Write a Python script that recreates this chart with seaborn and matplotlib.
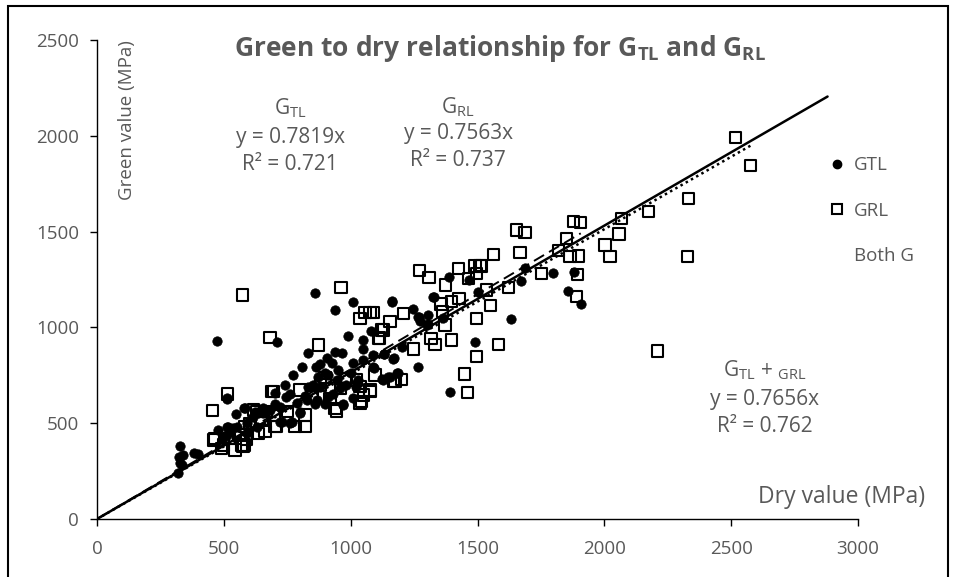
import numpy as np
import pandas as pd
import matplotlib.pyplot as plt
import seaborn as sns
from matplotlib.lines import Line2D
from matplotlib.patches import Rectangle

# GTL points (dry, green) in MPa
gtl_dry = [327, 325, 334, 320, 340, 327, 384, 397, 478, 511, 518, 537, 498, 511, 550, 590,
           629, 590, 616, 636, 656, 511, 514, 546, 581, 623, 656, 472, 708, 702, 721, 761,
           800, 728, 767, 800, 682, 636, 583, 721, 747, 787, 826, 866, 912, 971, 958, 945,
           912, 872, 833, 774, 807, 833, 863, 879, 908, 925, 859, 938, 1008, 1161, 938, 965,
           991, 1047, 1080, 1047, 1089, 1133, 1168, 1011, 1050, 1093, 1089, 1122, 1155, 1188,
           1030, 1011, 968, 1201, 1247, 1267, 1273, 1303, 1328, 1299, 1306, 1269, 1365, 1164,
           1326, 1389, 1468, 1503, 1131, 1171, 1264, 1148, 1184, 1129, 1392, 1490, 1634, 1687,
           1670, 1796, 1880, 1858, 1907, 700, 740, 760, 820, 850, 880, 900, 950, 980, 1000,
           1020, 900, 860, 930]
gtl_green = [381, 325, 282, 238, 334, 291, 343, 339, 464, 482, 482, 473, 421, 438, 482, 447,
             482, 499, 534, 560, 552, 626, 629, 548, 578, 560, 578, 931, 925, 656, 508, 499,
             560, 508, 504, 552, 569, 552, 578, 586, 638, 604, 621, 621, 638, 600, 682, 725,
             752, 743, 690, 752, 795, 868, 795, 809, 839, 816, 1178, 1091, 1134, 1134, 873, 865,
             955, 934, 983, 886, 856, 861, 835, 812, 830, 787, 792, 729, 743, 764,
             725, 630, 595, 896, 1096, 1056, 1035, 1065, 1160, 1012, 1016, 1053, 1047, 1138,
             1157, 1265, 1247, 1183, 861, 842, 792, 743, 764, 725, 664, 925, 1042, 1308,
             1244, 1282, 1287, 1190, 1122, 600, 700, 650, 640, 700, 690, 760, 780, 700, 760,
             690, 600, 600, 650]

# GRL points (dry, green) in MPa
grl_dry = [454, 514, 465, 498, 544, 579, 491, 459, 570, 590, 629, 668, 576, 583, 616, 636,
           662, 702, 708, 780, 820, 820, 695, 688, 800, 899, 984, 918, 938, 1023, 1076, 1043,
           1037, 1076, 945, 1037, 1050, 1096, 1168, 1201, 573, 682, 872, 962, 1037, 1056,
           1076, 1089, 1155, 1122, 1109, 1207, 1129, 1115, 1175, 1247, 1271, 1309, 1424, 1490,
           1516, 1375, 1427, 1356, 1361, 1398, 1372, 1317, 1332, 1398, 1448, 1461, 1497, 1497,
           1510, 1497, 1464, 1536, 1552, 1562, 1582, 1621, 1654, 1687, 1667, 1753, 1818, 1851,
           1865, 1897, 1878, 1907, 1895, 1890, 2003, 2022, 2058, 2068, 2173, 2209, 2331, 2328,
           2518, 2577, 520, 560, 600, 650, 700, 750, 850, 880, 960]
grl_green = [565, 652, 421, 386, 360, 386, 369, 412, 386, 416, 560, 560, 377, 482, 569, 447,
             456, 482, 482, 482, 482, 543, 664, 664, 673, 739, 734, 630, 578, 725, 673, 612,
             690, 664, 564, 604, 647, 752, 717, 729, 1169, 948, 908, 1209, 1047, 1077,
             1077, 1077, 1030, 986, 943, 1074, 986, 945, 717, 887, 1296, 1259, 1308, 1320,
             1320, 1221, 1152, 1122, 1082, 1134, 1012, 943, 912, 934, 757, 659, 1047, 847,
             1322, 1282, 1256, 1195, 1113, 1382, 912, 1207, 1508, 1494, 1392, 1282, 1400, 1465,
             1369, 1373, 1552, 1547, 1277, 1160, 1430, 1369, 1487, 1569, 1604, 877, 1674, 1369,
             1990, 1846, 420, 440, 500, 520, 540, 560, 640, 700, 680]

# trend lines through origin
slope_gtl, slope_grl, slope_both = 0.7819, 0.7563, 0.7656
end_gtl, end_grl, end_both = 1907, 2577, 2880

GREY = '#595959'

sns.set_theme(style='white')
plt.rcParams['font.family'] = ['Open Sans', 'DejaVu Sans']
plt.rcParams['mathtext.fontset'] = 'custom'
plt.rcParams['mathtext.rm'] = 'Open Sans'
plt.rcParams['mathtext.bf'] = 'Open Sans:bold'

fig = plt.figure(figsize=(9.57, 5.77), dpi=100)
ax = fig.add_axes([97 / 957, 1 - 519 / 577, (858 - 97) / 957, (519 - 40) / 577])

gtl = pd.DataFrame({'dry': gtl_dry, 'green': gtl_green})
grl = pd.DataFrame({'dry': grl_dry, 'green': grl_green})

sns.scatterplot(data=gtl, x='dry', y='green', ax=ax, marker='o', s=46,
                color='black', edgecolor='black', linewidth=0.5, zorder=3)
sns.scatterplot(data=grl, x='dry', y='green', ax=ax, marker='s', s=66,
                facecolor='none', edgecolor='black', linewidth=1.5, zorder=3)

for end, slope, ls, lw in [(end_both, slope_both, '-', 1.8),
                           (end_gtl, slope_gtl, (0, (6, 3)), 1.4),
                           (end_grl, slope_grl, (0, (1, 1.4)), 1.8)]:
    xs = np.array([0, end])
    sns.lineplot(x=xs, y=slope * xs, ax=ax, color='black', linestyle=ls, lw=lw, zorder=4)

ax.set_xlim(0, 3000)
ax.set_ylim(0, 2500)
ax.set_xticks(range(0, 3001, 500))
ax.set_yticks(range(0, 2501, 500))
ax.set_xlabel('')
ax.set_ylabel('')
for side in ['top', 'right']:
    ax.spines[side].set_visible(False)
for side in ['left', 'bottom']:
    ax.spines[side].set_color('black')
    ax.spines[side].set_linewidth(1.0)
ax.tick_params(axis='both', direction='out', length=5, width=1, color='black',
               labelcolor=GREY, labelsize=13.5, bottom=True, left=True)
ax.tick_params(axis='x', pad=10)
ax.tick_params(axis='y', pad=8)

# titles and axis names
fig.text(500 / 957, 1 - 48 / 577,
         r'Green to dry relationship for G$_{\mathbf{TL}}$ and G$_{\mathbf{RL}}$',
         ha='center', va='center', fontsize=19, fontweight='bold', color=GREY)
fig.text(127 / 957, 1 - 120 / 577, 'Green value (MPa)', rotation=90,
         ha='center', va='center', fontsize=13.5, color=GREY)
fig.text(925 / 957, 1 - 497 / 577, 'Dry value (MPa)', ha='right', va='center',
         fontsize=16.5, color=GREY)

# equation labels
labels = [
    (290, [108, 137, 165], [r'G$_{\mathrm{TL}}$', 'y = 0.7819x', 'R² = 0.721']),
    (458, [107, 133, 160], [r'G$_{\mathrm{RL}}$', 'y = 0.7563x', 'R² = 0.737']),
    (765, [370, 400, 427], [r'G$_{\mathrm{TL}}$ + $_{\mathrm{GRL}}$', 'y = 0.7656x', 'R² = 0.762']),
]
for cx, ys, lines in labels:
    for yy, line in zip(ys, lines):
        fig.text(cx / 957, 1 - yy / 577, line, ha='center', va='center',
                 fontsize=15, color=GREY)

handles = [
    Line2D([], [], marker='o', linestyle='none', color='black', markersize=6),
    Line2D([], [], marker='s', linestyle='none', markerfacecolor='none',
           markeredgecolor='black', markeredgewidth=1.5, markersize=7),
    Line2D([], [], linestyle='none', marker=None),
]
leg = fig.legend(handles, ['GTL', 'GRL', 'Both G'], loc='upper left',
                 bbox_to_anchor=(818 / 957, 1 - 147 / 577), frameon=False,
                 fontsize=13.5, labelcolor=GREY, handlelength=1.0, handletextpad=0.4,
                 labelspacing=1.45, borderpad=0)

# outer frame of the chart
fig.patches.append(Rectangle((8 / 957, -0.05), (948 - 8) / 957, 1.05 - 6 / 577,
                             transform=fig.transFigure, fill=False,
                             edgecolor='black', linewidth=1.5))

fig.savefig('out.png', dpi=100)
